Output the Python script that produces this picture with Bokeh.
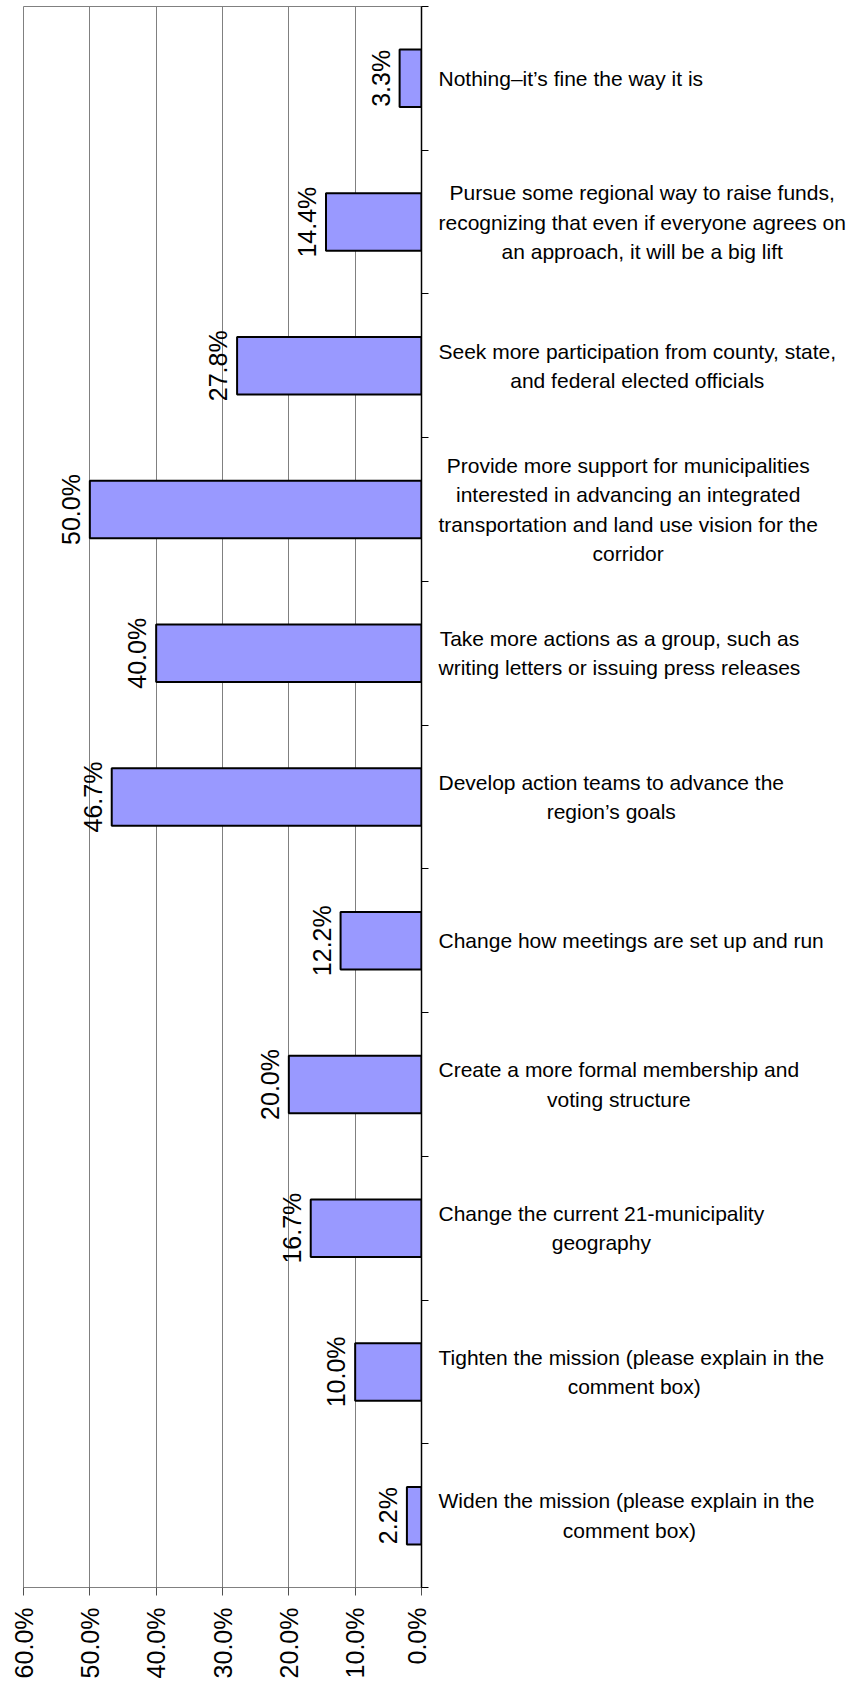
import math
from bokeh.plotting import figure
from bokeh.models import Range1d, FixedTicker, PrintfTickFormatter, ColumnDataSource
from bokeh.layouts import row
from bokeh.core.properties import value
from bokeh.embed import file_html
from bokeh.resources import INLINE

# ---- data (top to bottom) ----
categories = [
    "Nothing\u2013it\u2019s fine the way it is",
    "Pursue some regional way to raise funds,\nrecognizing that even if everyone agrees on\nan approach, it will be a big lift",
    "Seek more participation from county, state,\nand federal elected officials",
    "Provide more support for municipalities\ninterested in advancing an integrated\ntransportation and land use vision for the\ncorridor",
    "Take more actions as a group, such as\nwriting letters or issuing press releases",
    "Develop action teams to advance the\nregion\u2019s goals",
    "Change how meetings are set up and run",
    "Create a more formal membership and\nvoting structure",
    "Change the current 21-municipality\ngeography",
    "Tighten the mission  (please explain in the\ncomment box)",
    "Widen the mission  (please explain in the\ncomment box)",
]
values = [3.3, 14.4, 27.8, 50.0, 40.0, 46.7, 12.2, 20.0, 16.7, 10.0, 2.2]
x_ticks = [0, 10, 20, 30, 40, 50, 60]
grid_ticks = [10, 20, 30, 40, 50]

FONT = "Liberation Sans"
n = len(categories)
pos = [i + 0.5 for i in range(n)]
boundaries = list(range(n + 1))
src = ColumnDataSource(dict(
    y=pos,
    v=values,
    lbl=[f"{v:.1f}%" for v in values],
    cat=categories,
))

H = 1684
TOP = 6
BOTTOM = 97
P_W = 430
Q_W = 855 - P_W
y_range = Range1d(n, 0)

p = figure(width=P_W, height=H, x_range=Range1d(60, 0), y_range=y_range,
           output_backend="svg", toolbar_location=None,
           min_border_left=23, min_border_right=9, min_border_top=TOP,
           min_border_bottom=BOTTOM, y_axis_location="right")
p.background_fill_color = "white"
p.border_fill_color = "white"
p.outline_line_color = "#808080"

p.xaxis.ticker = FixedTicker(ticks=x_ticks)
p.xaxis.formatter = PrintfTickFormatter(format="%.1f%%")
p.xaxis.major_label_orientation = math.pi / 2
p.xaxis.major_label_text_font = FONT
p.xaxis.major_label_text_font_size = "25px"
p.xaxis.major_label_text_color = "black"
p.xaxis.major_label_standoff = 12
p.xaxis.major_tick_out = 8
p.xaxis.major_tick_in = 0
p.xaxis.minor_tick_line_color = None
p.xaxis.axis_line_color = "#808080"
p.xaxis.major_tick_line_color = "#505050"

# right axis: only boundary ticks between categories, no labels
p.yaxis.ticker = FixedTicker(ticks=[], minor_ticks=boundaries)
p.yaxis.major_label_standoff = 0
p.yaxis.major_tick_out = 0
p.yaxis.major_tick_in = 0
p.yaxis.minor_tick_out = 7
p.yaxis.minor_tick_in = 0
p.yaxis.minor_tick_line_color = "black"
p.yaxis.axis_line_color = "black"
p.yaxis.axis_line_width = 1.5

p.xgrid.ticker = FixedTicker(ticks=grid_ticks)
p.xgrid.grid_line_color = "#808080"
p.ygrid.visible = False

p.hbar(y="y", left=0, right="v", height=0.4, fill_color="#9999FF",
       line_color="black", line_width=2, source=src)
p.text(x="v", y="y", text="lbl", angle=math.pi / 2, text_align="center",
       text_baseline="alphabetic", x_offset=-19, text_font=value(FONT),
       text_font_size="25px", text_color="black", source=src)

q = figure(width=Q_W, height=H, x_range=Range1d(0, 1), y_range=y_range,
           output_backend="svg", toolbar_location=None,
           min_border_left=0, min_border_right=0, min_border_top=TOP,
           min_border_bottom=BOTTOM)
q.axis.visible = False
q.grid.visible = False
q.outline_line_color = None
q.background_fill_color = "white"
q.border_fill_color = "white"
q.text(x=0, y="y", text="cat", anchor=value("center_left"), text_align="center",
       text_baseline="middle", x_offset=8, text_font=value(FONT),
       text_font_size="21px", text_line_height=1.28, text_color="black",
       source=src)

layout = row(p, q)
open("out.html", "w").write(file_html(layout, INLINE))
